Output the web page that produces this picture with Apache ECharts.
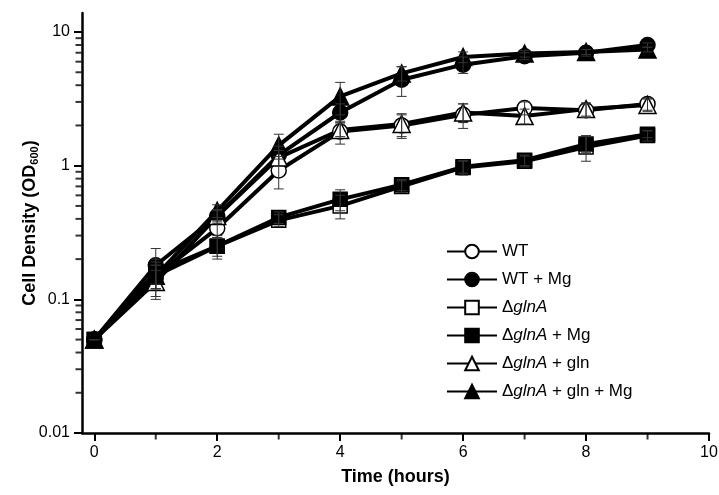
<!DOCTYPE html>
<html>
<head>
<meta charset="utf-8">
<script src="https://cdn.jsdelivr.net/npm/echarts@6/dist/echarts.min.js"></script>
<style>
  html, body { margin: 0; padding: 0; background: #fff; }
  #main { width: 719px; height: 495px; }
</style>
</head>
<body>
<div id="main"></div>
<script>
// time points (hours)
const hours = [0, 1, 2, 3, 4, 5, 6, 7, 8, 9]

// OD600 means
const wt = [0.05, 0.15, 0.34, 0.92, 1.8, 2.0, 2.4, 2.7, 2.6, 2.9]
const wtMg = [0.05, 0.18, 0.42, 1.2, 2.5, 4.4, 5.7, 6.6, 7.0, 8.0]
const glnA = [0.05, 0.15, 0.25, 0.39, 0.5, 0.7, 0.97, 1.08, 1.38, 1.68]
const glnAMg = [0.05, 0.16, 0.25, 0.41, 0.56, 0.72, 0.98, 1.1, 1.45, 1.72]
const glnAGln = [0.05, 0.135, 0.42, 1.15, 1.85, 2.05, 2.5, 2.35, 2.65, 2.85]
const glnAGlnMg = [0.05, 0.15, 0.46, 1.42, 3.3, 4.9, 6.5, 6.9, 7.1, 7.4]

// error bars (+/-)
const wtErr = [0, 0.03, 0.05, 0.25, 0.35, 0.4, 0.5, 0.3, 0.3, 0.3]
const wtMgErr = [0, 0.06, 0.05, 0.2, 0.4, 1.1, 0.8, 0.4, 0.4, 0.3]
const glnAErr = [0, 0.05, 0.04, 0.04, 0.1, 0.07, 0.12, 0.1, 0.3, 0.15]
const glnAMgErr = [0, 0.03, 0.05, 0.04, 0.1, 0.07, 0.1, 0.1, 0.2, 0.1]
const glnAGlnErr = [0, 0.03, 0.04, 0.15, 0.2, 0.4, 0.4, 0.3, 0.3, 0.3]
const glnAGlnMgErr = [0, 0.03, 0.05, 0.3, 0.9, 0.6, 0.6, 0.4, 0.3, 0.3]

// tick values
const xMin = -0.2
const yMin = 0.01
const xLabels = [0, 2, 4, 6, 8, 10]
const xMinor = [1, 3, 5, 7, 9]
const yMajor = [0.01, 0.1, 1, 10]
const yMinor = [
  0.02, 0.03, 0.04, 0.05, 0.06, 0.07, 0.08, 0.09,
  0.2, 0.3, 0.4, 0.5, 0.6, 0.7, 0.8, 0.9,
  2, 3, 4, 5, 6, 7, 8, 9
]

const groups = [
  { name: 'WT', values: wt, err: wtErr, symbol: 'circle', filled: false },
  { name: 'WT + Mg', values: wtMg, err: wtMgErr, symbol: 'circle', filled: true },
  { name: 'ΔglnA', values: glnA, err: glnAErr, symbol: 'rect', filled: false },
  { name: 'ΔglnA + Mg', values: glnAMg, err: glnAMgErr, symbol: 'rect', filled: true },
  { name: 'ΔglnA + gln', values: glnAGln, err: glnAGlnErr, symbol: 'triangle', filled: false },
  { name: 'ΔglnA + gln + Mg', values: glnAGlnMg, err: glnAGlnMgErr, symbol: 'triangle', filled: true }
]

const font = 'Liberation Sans, Arial, sans-serif'

const lineSeries = groups.map(g => ({
  name: g.name,
  type: 'line',
  data: hours.map((h, i) => [h, g.values[i]]),
  symbol: g.symbol,
  symbolSize: g.symbol === 'triangle' ? 17 : (g.symbol === 'rect' ? 14 : 15),
  showAllSymbol: true,
  lineStyle: { color: '#000', width: 4 },
  itemStyle: {
    color: g.filled ? '#000' : '#fff',
    borderColor: '#000',
    borderWidth: 1.5
  },
  z: 3
}))

const errSeries = groups.map(g => ({
  name: g.name + ' err',
  type: 'custom',
  data: hours.map((h, i) => [h, g.values[i] - g.err[i], g.values[i] + g.err[i]]),
  renderItem: (params, api) => {
    const lo = api.coord([api.value(0), api.value(1)])
    const hi = api.coord([api.value(0), api.value(2)])
    const w = 5
    const style = { stroke: '#333', lineWidth: 1 }
    return {
      type: 'group',
      children: [
        { type: 'line', shape: { x1: lo[0], y1: lo[1], x2: hi[0], y2: hi[1] }, style },
        { type: 'line', shape: { x1: lo[0] - w, y1: lo[1], x2: lo[0] + w, y2: lo[1] }, style },
        { type: 'line', shape: { x1: hi[0] - w, y1: hi[1], x2: hi[0] + w, y2: hi[1] }, style }
      ]
    }
  },
  z: 5,
  silent: true
}))

// minor ticks: short outward marks placed through the axes' scales
const minorTickSeries = [
  {
    name: 'y minor ticks',
    type: 'scatter',
    silent: true,
    clip: false,
    data: yMinor.map(v => [xMin, v]),
    symbol: 'rect',
    symbolSize: [6, 2],
    symbolOffset: [-3.5, 0],
    itemStyle: { color: '#000' },
    z: 1
  },
  {
    name: 'x minor ticks',
    type: 'scatter',
    silent: true,
    clip: false,
    data: xMinor.map(v => [v, yMin]),
    symbol: 'rect',
    symbolSize: [2, 6],
    symbolOffset: [0, 3.5],
    itemStyle: { color: '#000' },
    z: 1
  }
]

const chart = echarts.init(document.getElementById('main'))
chart.setOption({
  animation: false,
  backgroundColor: '#fff',
  grid: { left: 82, right: 10, top: 13, bottom: 62, outerBoundsMode: 'none', containLabel: false },
  legend: {
    data: groups.map(g => g.name),
    orient: 'vertical',
    left: 441,
    top: 238,
    itemWidth: 50,
    itemHeight: 17,
    itemGap: 11,
    textStyle: {
      fontFamily: font,
      fontSize: 17,
      color: '#000',
      rich: {
        i: { fontStyle: 'italic', fontFamily: font, fontSize: 17, color: '#000' }
      }
    },
    formatter: name => name.replace('glnA', '{i|glnA}')
  },
  xAxis: {
    type: 'value',
    min: xMin,
    max: 10,
    name: 'Time (hours)',
    nameLocation: 'middle',
    nameGap: 35,
    nameMoveOverlap: false,
    nameTextStyle: { fontFamily: font, fontSize: 18, fontWeight: 'bold', color: '#000' },
    axisLine: { show: true, onZero: false, lineStyle: { color: '#000', width: 2.5 } },
    axisTick: { show: true, customValues: xLabels, length: 8, lineStyle: { color: '#000', width: 2 } },
    axisLabel: { customValues: xLabels, fontFamily: font, fontSize: 16, color: '#000', margin: 12 },
    splitLine: { show: false }
  },
  yAxis: {
    type: 'log',
    logBase: 10,
    min: yMin,
    max: 13.88,
    name: 'Cell Density (OD{sub|600})',
    nameLocation: 'middle',
    nameGap: 42,
    nameMoveOverlap: false,
    nameTextStyle: {
      fontFamily: font,
      fontSize: 18,
      fontWeight: 'bold',
      color: '#000',
      rich: {
        sub: { fontFamily: font, fontSize: 11, fontWeight: 'bold', color: '#000', verticalAlign: 'bottom', padding: [8, 0, 0, 0] }
      }
    },
    axisLine: { show: true, onZero: false, lineStyle: { color: '#000', width: 2.5 } },
    axisTick: { show: true, customValues: yMajor, length: 8, lineStyle: { color: '#000', width: 2 } },
    axisLabel: {
      customValues: yMajor,
      fontFamily: font,
      fontSize: 16,
      color: '#000',
      margin: 12,
      formatter: v => String(v)
    },
    splitLine: { show: false }
  },
  series: [...lineSeries, ...errSeries, ...minorTickSeries]
})
</script>
</body>
</html>
